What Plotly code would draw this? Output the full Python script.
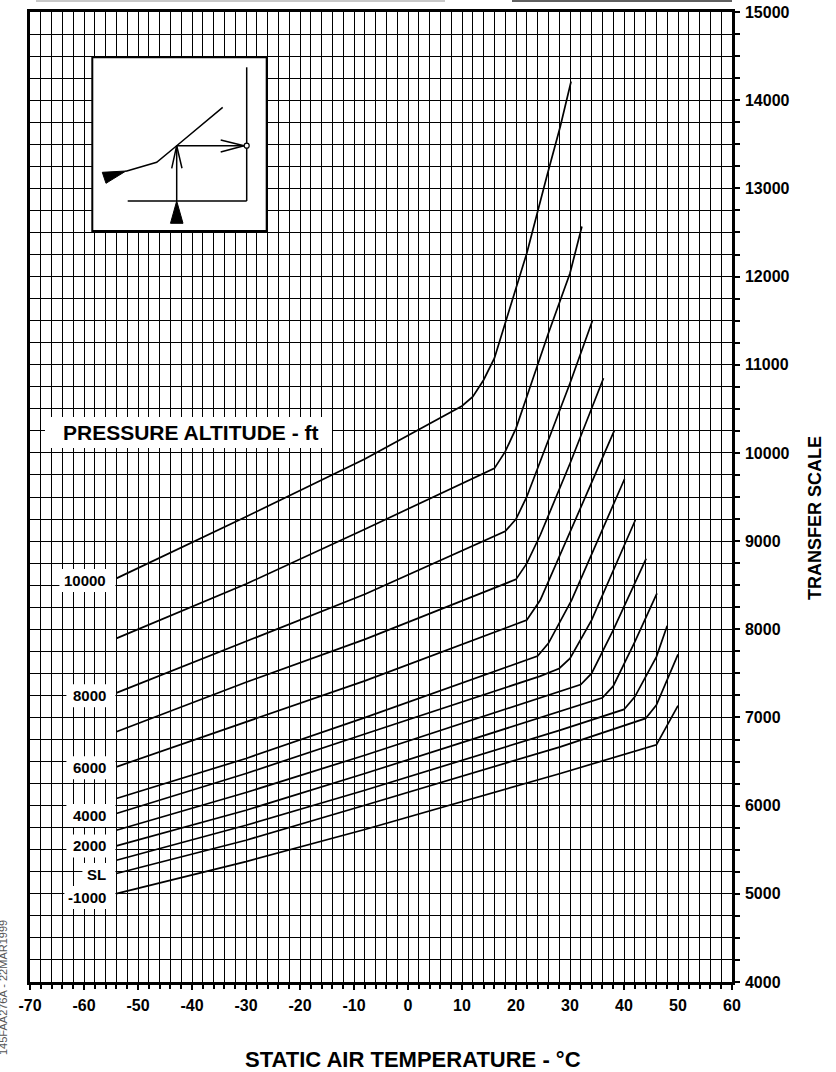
import plotly.graph_objects as go

# ---------------- data ----------------
x_tick_vals = [-70, -60, -50, -40, -30, -20, -10, 0, 10, 20, 30, 40, 50, 60]
y_tick_vals = [4000, 5000, 6000, 7000, 8000, 9000, 10000, 11000, 12000, 13000, 14000, 15000]

alt_m1000_t = [-54, -30, -8, 28.2, 46, 50]
alt_m1000_v = [5003, 5365, 5730, 6365, 6690, 7135]

alt_sl_t = [-54, -30, -8, 28.2, 44, 46, 50]
alt_sl_v = [5230, 5608, 6005, 6667, 6989, 7140, 7715]

alt_1000_t = [-54, -30, -8, 28.2, 40, 42, 46, 48]
alt_1000_v = [5381, 5778, 6175, 6856, 7091, 7234, 7688, 8040]

alt_2000_t = [-54, -30, -8, 28.2, 36, 38, 42, 46.1]
alt_2000_v = [5543, 5948, 6364, 7064, 7223, 7355, 7858, 8407]

alt_3000_t = [-54, -30, -8, 28.2, 32, 34, 38, 44.1]
alt_3000_v = [5721, 6149, 6572, 7291, 7374, 7499, 7991, 8800]

alt_4000_t = [-54, -30, -8, 24.5, 28, 30, 34, 42.1]
alt_4000_v = [5911, 6365, 6812, 7469, 7556, 7670, 8104, 9239]

alt_5000_t = [-54, -30, -8, 24, 26, 30.3, 40.1]
alt_5000_v = [6081, 6535, 6998, 7696, 7840, 8331, 9704]

alt_6000_t = [-54, -30, -8, 22, 24.5, 38.2]
alt_6000_v = [6440, 6950, 7415, 8104, 8331, 10252]

alt_7000_t = [-54, -30, -8, 20, 22, 24.5, 30, 36.2]
alt_7000_v = [6837, 7400, 7886, 8566, 8747, 9069, 9880, 10847]

alt_8000_t = [-54, -30, -8, 18, 20, 22, 26, 30, 34.2]
alt_8000_v = [7279, 7858, 8397, 9110, 9250, 9503, 10147, 10790, 11508]

alt_9000_t = [-54, -30, -8, 16, 18, 20, 22, 26, 30, 32.2]
alt_9000_v = [7897, 8513, 9135, 9825, 10014, 10279, 10638, 11357, 12038, 12567]

alt_10000_t = [-54, -30, -8, 10, 12, 14, 16, 18, 22, 25.7, 28.2, 30.2]
alt_10000_v = [8577, 9276, 9930, 10532, 10638, 10827, 11074, 11471, 12265, 13134, 13702, 14212]

curve_names = ["-1000", "SL", "1000", "2000", "3000", "4000", "5000",
               "6000", "7000", "8000", "9000", "10000"]
curve_temps = [alt_m1000_t, alt_sl_t, alt_1000_t, alt_2000_t, alt_3000_t, alt_4000_t,
               alt_5000_t, alt_6000_t, alt_7000_t, alt_8000_t, alt_9000_t, alt_10000_t]
curve_vals = [alt_m1000_v, alt_sl_v, alt_1000_v, alt_2000_v, alt_3000_v, alt_4000_v,
              alt_5000_v, alt_6000_v, alt_7000_v, alt_8000_v, alt_9000_v, alt_10000_v]

labelled_curves = ["10000", "8000", "6000", "4000", "2000", "SL", "-1000"]

# ---------------- geometry / style ----------------
W, H = 836, 1072
ML, MR, MT, MB = 30, 104, 12, 90
PW = W - ML - MR
PH = H - MT - MB
FONT = "Liberation Sans, Arial, Helvetica, sans-serif"


def xp(px):
    """page pixel x -> paper x"""
    return (px - ML) / PW


def yp(py):
    """page pixel y -> paper y"""
    return (H - MB - py) / PH


fig = go.Figure()
for name, t, v in zip(curve_names, curve_temps, curve_vals):
    fig.add_trace(go.Scatter(x=t, y=v, mode="lines", name=name,
                             line=dict(color="black", width=1.7),
                             hoverinfo="skip", showlegend=False))

shapes = []
annotations = []

# label boxes and texts at the start of labelled curves
label_box_width = {"10000": 57, "8000": 50, "6000": 50, "4000": 50, "2000": 50, "SL": 34, "-1000": 52}
label_yshift = {"10000": -2, "8000": -3, "6000": -1, "4000": -2, "2000": 0, "SL": -1, "-1000": -4}
for name in labelled_curves:
    i = curve_names.index(name)
    t0 = curve_temps[i][0]
    v0 = curve_vals[i][0]
    ys = label_yshift[name]
    shapes.append(dict(type="rect", xref="x", yref="y", xsizemode="pixel", ysizemode="pixel",
                       xanchor=t0, yanchor=v0, x0=-label_box_width[name], x1=-1,
                       y0=ys - 11.5, y1=ys + 11.5,
                       fillcolor="white", line=dict(width=0), layer="above"))
    annotations.append(dict(x=t0, y=v0, xref="x", yref="y", text=name, showarrow=False,
                            xanchor="right", yanchor="middle", xshift=-8, yshift=ys,
                            font=dict(family=FONT, size=15, color="black", weight="bold")))

# "PRESSURE ALTITUDE - ft" label
shapes.append(dict(type="rect", xref="paper", yref="paper", x0=xp(45), x1=xp(332),
                   y0=yp(448), y1=yp(417), fillcolor="white", line=dict(width=0), layer="above"))
annotations.append(dict(x=xp(191), y=yp(432.5), xref="paper", yref="paper",
                        text="PRESSURE ALTITUDE - ft", showarrow=False,
                        xanchor="center", yanchor="middle",
                        font=dict(family=FONT, size=21, color="black", weight="bold")))

# axis titles
annotations.append(dict(x=xp(413), y=yp(1059), xref="paper", yref="paper",
                        text="STATIC AIR TEMPERATURE - °C", showarrow=False,
                        xanchor="center", yanchor="middle",
                        font=dict(family=FONT, size=22, color="black", weight="bold")))
annotations.append(dict(x=xp(815), y=yp(518), xref="paper", yref="paper",
                        text="TRANSFER SCALE", showarrow=False, textangle=-90,
                        xanchor="center", yanchor="middle",
                        font=dict(family=FONT, size=18, color="black", weight="bold")))
# document reference (partly cut at the left page edge, as in the original)
annotations.append(dict(x=xp(3), y=yp(988), xref="paper", yref="paper",
                        text="145FAA276A - 22MAR1999", showarrow=False, textangle=-90,
                        xanchor="center", yanchor="middle",
                        font=dict(family=FONT, size=11, color="#555")))

# cut-off header lines at the very top
shapes.append(dict(type="line", xref="paper", yref="paper", x0=xp(36), x1=xp(445),
                   y0=yp(1), y1=yp(1), line=dict(color="#c8c8c8", width=2)))
shapes.append(dict(type="line", xref="paper", yref="paper", x0=xp(512), x1=xp(732),
                   y0=yp(1), y1=yp(1), line=dict(color="#606060", width=2)))


# inset usage diagram (page pixel geometry)
def path(points, close=False):
    s = "M " + " L ".join(f"{xp(a):.5f},{yp(b):.5f}" for a, b in points)
    return s + (" Z" if close else "")


shapes.append(dict(type="rect", xref="paper", yref="paper", x0=xp(92.3), x1=xp(266.7),
                   y0=yp(231), y1=yp(57.3), fillcolor="white",
                   line=dict(color="black", width=2), layer="above"))
ink = dict(color="black", width=1.5)
shapes += [
    dict(type="path", xref="paper", yref="paper", layer="above", line=ink,
         path=path([(126, 171.3), (156.7, 162.3), (176.7, 145.7), (222.7, 107.3)])),
    dict(type="path", xref="paper", yref="paper", layer="above",
         line=dict(color="black", width=1), fillcolor="black",
         path=path([(102.3, 172.3), (106, 183.3), (126, 171)], close=True)),
    dict(type="path", xref="paper", yref="paper", layer="above", line=ink,
         path=path([(176.7, 201), (176.7, 145.7)])),
    dict(type="path", xref="paper", yref="paper", layer="above", line=ink,
         path=path([(171.7, 168.3), (176.7, 145.7), (182, 168.3)])),
    dict(type="path", xref="paper", yref="paper", layer="above", line=ink,
         path=path([(176.7, 145.7), (244, 145.7)])),
    dict(type="path", xref="paper", yref="paper", layer="above", line=ink,
         path=path([(220.7, 140), (244, 145.7), (220.7, 152)])),
    dict(type="path", xref="paper", yref="paper", layer="above",
         line=dict(color="black", width=1), fillcolor="black",
         path=path([(170.5, 223.3), (183, 223.3), (176.7, 201)], close=True)),
    dict(type="path", xref="paper", yref="paper", layer="above", line=ink,
         path=path([(246.7, 67.3), (246.7, 201)])),
    dict(type="path", xref="paper", yref="paper", layer="above", line=ink,
         path=path([(127.7, 201), (246.7, 201)])),
    dict(type="circle", xref="paper", yref="paper", layer="above",
         x0=xp(244.2), x1=xp(249.2), y0=yp(148.2), y1=yp(143.2),
         fillcolor="white", line=dict(color="black", width=1.2)),
]

tickfont = dict(family=FONT, size=16, color="black", weight="bold")
fig.update_layout(
    width=W, height=H,
    margin=dict(l=ML, r=MR, t=MT, b=MB, autoexpand=False),
    paper_bgcolor="white", plot_bgcolor="white",
    showlegend=False, hovermode=False,
    shapes=shapes, annotations=annotations,
    xaxis=dict(range=[-70, 60], tickmode="array", tickvals=x_tick_vals,
               ticktext=[str(v) for v in x_tick_vals],
               showgrid=True, gridcolor="black", gridwidth=1,
               ticks="outside", ticklen=5, tickwidth=1.5, tickcolor="black",
               showline=True, linewidth=2.5, linecolor="black", mirror=True,
               zeroline=False, tickfont=tickfont, ticklabelstandoff=2,
               ticklabeloverflow="allow",
               minor=dict(tickmode="linear", tick0=0, dtick=2, showgrid=True,
                          gridcolor="black", gridwidth=1, ticks="outside",
                          ticklen=4, tickwidth=1.5, tickcolor="black")),
    yaxis=dict(range=[4000, 15000], side="right", tickmode="array", tickvals=y_tick_vals,
               ticktext=[str(v) for v in y_tick_vals],
               showgrid=True, gridcolor="black", gridwidth=1,
               ticks="outside", ticklen=5, tickwidth=1.5, tickcolor="black",
               showline=True, linewidth=2.5, linecolor="black", mirror=True,
               zeroline=False, tickfont=tickfont, ticklabelstandoff=2,
               ticklabeloverflow="allow",
               minor=dict(tickmode="linear", tick0=0, dtick=250, showgrid=True,
                          gridcolor="black", gridwidth=1, ticks="outside",
                          ticklen=5, tickwidth=1.5, tickcolor="black")),
)

# place the figure at the page corner (remove the default 8 px body margin), no mode bar
fig.write_html("out.html", config={"displayModeBar": False},
               post_script="document.body.style.margin='0px';")
